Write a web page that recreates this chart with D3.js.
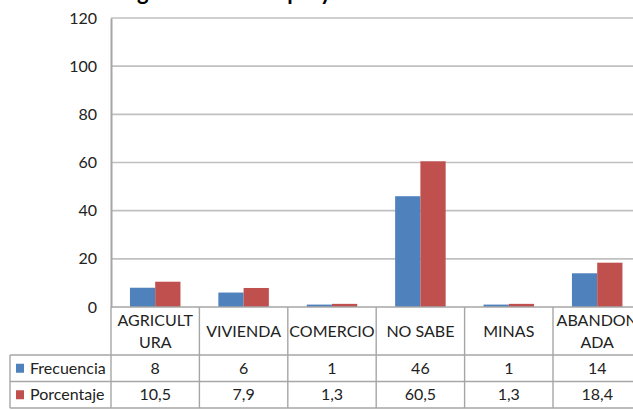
<!DOCTYPE html>
<html>
<head>
<meta charset="utf-8">
<script src="https://cdnjs.cloudflare.com/ajax/libs/d3/7.8.5/d3.min.js"></script>
<style>
  body { margin: 0; background: #fff; }
  text { font-family: Lato, "Open Sans", sans-serif; fill: #222; }
</style>
</head>
<body>
<div id="chart"></div>
<script>
// data
var categories = [["AGRICULT", "URA"], ["VIVIENDA"], ["COMERCIO"], ["NO SABE"], ["MINAS"], ["ABANDON", "ADA"]];
var seriesNames = ["Frecuencia", "Porcentaje"];
var frecuencia = [8, 6, 1, 46, 1, 14];
var porcentaje = [10.5, 7.9, 1.3, 60.5, 1.3, 18.4];
var porcentajeLabels = ["10,5", "7,9", "1,3", "60,5", "1,3", "18,4"];
var yTicks = [0, 20, 40, 60, 80, 100, 120];
var titleText = "Uso del suelo según la zona del proyecto";

var colors = ["#4F81BD", "#C0504D"];

var svgWidth = 633;
var svgHeight = 410;

var plotLeft = 111, plotRight = 641.4, plotTop = 18, plotBottom = 307;
var tableLeft = 10;
var rowLines = [355, 381.5, 408];

var svg = d3.select("#chart").append("svg").attr("width", svgWidth).attr("height", svgHeight);

var keys = categories.map(function(c, i) { return "c" + i; });

var x = d3.scaleBand().domain(keys).range([plotLeft, plotRight]).paddingInner(0).paddingOuter(0);
var xSeries = d3.scaleBand().domain(seriesNames).range([0, x.bandwidth()]).paddingInner(0).paddingOuter(0.75);
var y = d3.scaleLinear().domain([0, 120]).range([plotBottom, plotTop]);

// title (cut off above, only the descenders show)
var title = svg.append("text")
    .attr("x", 0).attr("y", -0.5)
    .attr("font-size", "22px").attr("font-weight", "bold")
    .style("fill", "#000")
    .text(titleText);
var gIdx = titleText.indexOf("g");
var gPos = title.node().getStartPositionOfChar(gIdx).x;
title.attr("x", 137 - gPos);

// gridlines
svg.append("g").selectAll("line")
    .data(yTicks.slice(1))
    .enter().append("line")
    .attr("x1", plotLeft).attr("x2", plotRight)
    .attr("y1", function(d) { return y(d); })
    .attr("y2", function(d) { return y(d); })
    .attr("stroke", "#c0c0c0").attr("stroke-width", 1.6);

// y axis
var yAxis = d3.axisLeft(y).tickValues(yTicks).tickSize(0).tickPadding(14);
var yg = svg.append("g").attr("transform", "translate(" + plotLeft + ",0)").call(yAxis);
yg.select(".domain").attr("stroke", "#a6a6a6").attr("stroke-width", 2);
yg.selectAll("text").attr("font-size", "16px").attr("font-family", "Lato, sans-serif").style("fill", "#222");

// bars
var seriesData = [frecuencia, porcentaje];
seriesData.forEach(function(vals, s) {
    svg.append("g").selectAll("rect")
        .data(vals)
        .enter().append("rect")
        .attr("x", function(d, i) { return x(keys[i]) + xSeries(seriesNames[s]); })
        .attr("y", function(d) { return y(d); })
        .attr("width", xSeries.bandwidth())
        .attr("height", function(d) { return y(0) - y(d); })
        .attr("fill", colors[s]);
});

// bottom axis line
svg.append("line")
    .attr("x1", plotLeft).attr("x2", plotRight)
    .attr("y1", plotBottom).attr("y2", plotBottom)
    .attr("stroke", "#a6a6a6").attr("stroke-width", 1.6);

// data table
var tbl = svg.append("g").attr("stroke", "#a6a6a6").attr("stroke-width", 1.4);
rowLines.forEach(function(ry) {
    tbl.append("line").attr("x1", tableLeft).attr("x2", plotRight).attr("y1", ry).attr("y2", ry);
});
tbl.append("line").attr("x1", tableLeft).attr("x2", tableLeft).attr("y1", rowLines[0]).attr("y2", rowLines[2]);
keys.concat(["end"]).forEach(function(k, i) {
    var lx = i < keys.length ? x(k) : plotRight;
    tbl.append("line").attr("x1", lx).attr("x2", lx).attr("y1", plotBottom).attr("y2", rowLines[2]);
});

// category labels
svg.append("g").selectAll("text")
    .data(categories)
    .enter().append("text")
    .attr("text-anchor", "middle")
    .attr("font-size", "16px")
    .each(function(lines, i) {
        var t = d3.select(this);
        var cx = x(keys[i]) + x.bandwidth() / 2;
        var y0 = lines.length === 1 ? 337 : 326;
        lines.forEach(function(l, j) {
            t.append("tspan").attr("x", cx).attr("y", y0 + j * 22).text(l);
        });
    });

// legend cells and values
var rowText = [frecuencia.map(String), porcentajeLabels];
var rowMid = [(rowLines[0] + rowLines[1]) / 2, (rowLines[1] + rowLines[2]) / 2];
seriesNames.forEach(function(name, s) {
    svg.append("rect")
        .attr("x", 16).attr("y", rowMid[s] - 4.5)
        .attr("width", 8).attr("height", 9)
        .attr("fill", colors[s]);
    svg.append("text")
        .attr("x", 30).attr("y", rowMid[s] + 5.5)
        .attr("font-size", "16px")
        .text(name);
    svg.append("g").selectAll("text")
        .data(rowText[s])
        .enter().append("text")
        .attr("x", function(d, i) { return x(keys[i]) + x.bandwidth() / 2; })
        .attr("y", rowMid[s] + 5.5)
        .attr("text-anchor", "middle")
        .attr("font-size", "16px")
        .text(function(d) { return d; });
});
</script>
</body>
</html>
